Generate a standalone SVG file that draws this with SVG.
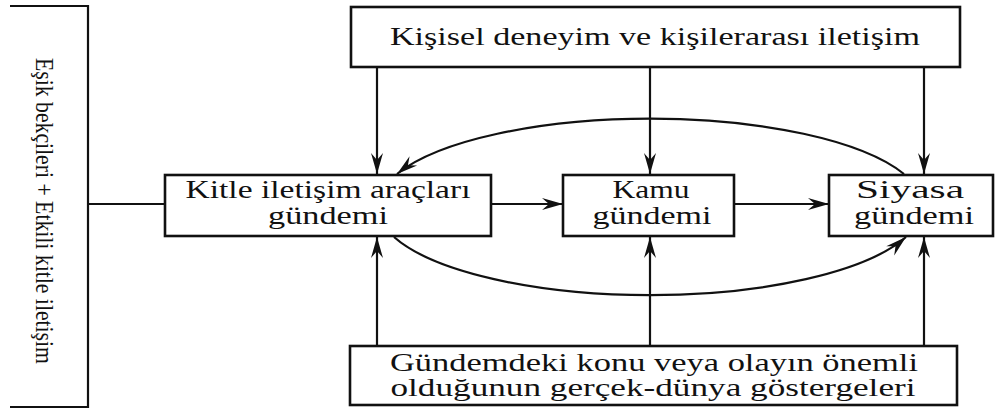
<svg xmlns="http://www.w3.org/2000/svg" width="996" height="412" viewBox="0 0 996 412">
<style>
.box{fill:#fff;stroke:#111;stroke-width:2.6}
.ln{fill:none;stroke:#111;stroke-width:2.2}
.t{font-family:"Liberation Serif","Times New Roman",serif;font-size:25px;fill:#111;text-anchor:middle}
.lt{font-family:"Liberation Serif","Times New Roman",serif;font-size:25px;fill:#111;text-anchor:middle}
</style>
<defs>
<marker id="ah" viewBox="-22 -7 24 14" refX="0" refY="0" markerWidth="24" markerHeight="14" markerUnits="userSpaceOnUse" orient="auto">
<path d="M0,0 L-21,-6 L-14,0 L-21,6 Z" fill="#111"/>
</marker>
</defs>
<rect width="996" height="412" fill="#fff"/>

<g id="connectors">
<polyline class="ln" points="10,6 88,6 88,407 10,407" stroke-width="2.8"/>
<line class="ln" x1="88" y1="204" x2="165" y2="204"/>
<line class="ln" x1="491" y1="204" x2="563" y2="204" marker-end="url(#ah)"/>
<line class="ln" x1="734" y1="204" x2="829" y2="204" marker-end="url(#ah)"/>
<line class="ln" x1="377" y1="67" x2="377" y2="174" marker-end="url(#ah)"/>
<line class="ln" x1="650" y1="67" x2="650" y2="174" marker-end="url(#ah)"/>
<line class="ln" x1="924" y1="67" x2="924" y2="174" marker-end="url(#ah)"/>
<line class="ln" x1="377" y1="346" x2="377" y2="237" marker-end="url(#ah)"/>
<line class="ln" x1="650" y1="346" x2="650" y2="237" marker-end="url(#ah)"/>
<line class="ln" x1="924" y1="346" x2="924" y2="237" marker-end="url(#ah)"/>
<path class="ln" d="M 904 174 A 273 88 0 0 0 397 174" marker-end="url(#ah)"/>
<path class="ln" d="M 394 237 A 273 89 0 0 0 906 237" marker-end="url(#ah)"/>
</g>

<g id="gatekeepers">
<text class="lt" transform="translate(36,211) rotate(90)" textLength="306" lengthAdjust="spacingAndGlyphs">Eşik bekçileri + Etkili kitle iletişim</text>
</g>

<g id="personal">
<rect class="box" x="351" y="7" width="609" height="60"/>
<text class="t" x="655" y="45" textLength="530" lengthAdjust="spacingAndGlyphs">Kişisel deneyim ve kişilerarası iletişim</text>
</g>

<g id="media">
<rect class="box" x="165" y="175" width="326" height="61"/>
<text class="t" x="328" y="198" textLength="285" lengthAdjust="spacingAndGlyphs">Kitle iletişim araçları</text>
<text class="t" x="328" y="224" textLength="120" lengthAdjust="spacingAndGlyphs">gündemi</text>
</g>

<g id="public">
<rect class="box" x="563" y="175" width="171" height="61"/>
<text class="t" x="651" y="198" textLength="77" lengthAdjust="spacingAndGlyphs">Kamu</text>
<text class="t" x="652" y="224" textLength="119" lengthAdjust="spacingAndGlyphs">gündemi</text>
</g>

<g id="policy">
<rect class="box" x="829" y="175" width="164" height="61"/>
<text class="t" x="910" y="198" textLength="108" lengthAdjust="spacingAndGlyphs">Siyasa</text>
<text class="t" x="914" y="224" textLength="120" lengthAdjust="spacingAndGlyphs">gündemi</text>
</g>

<g id="realworld">
<rect class="box" x="350" y="346" width="607" height="59"/>
<text class="t" x="654" y="371" textLength="528" lengthAdjust="spacingAndGlyphs">Gündemdeki konu veya olayın önemli</text>
<text class="t" x="653" y="396" textLength="525" lengthAdjust="spacingAndGlyphs">olduğunun gerçek-dünya göstergeleri</text>
</g>
</svg>
